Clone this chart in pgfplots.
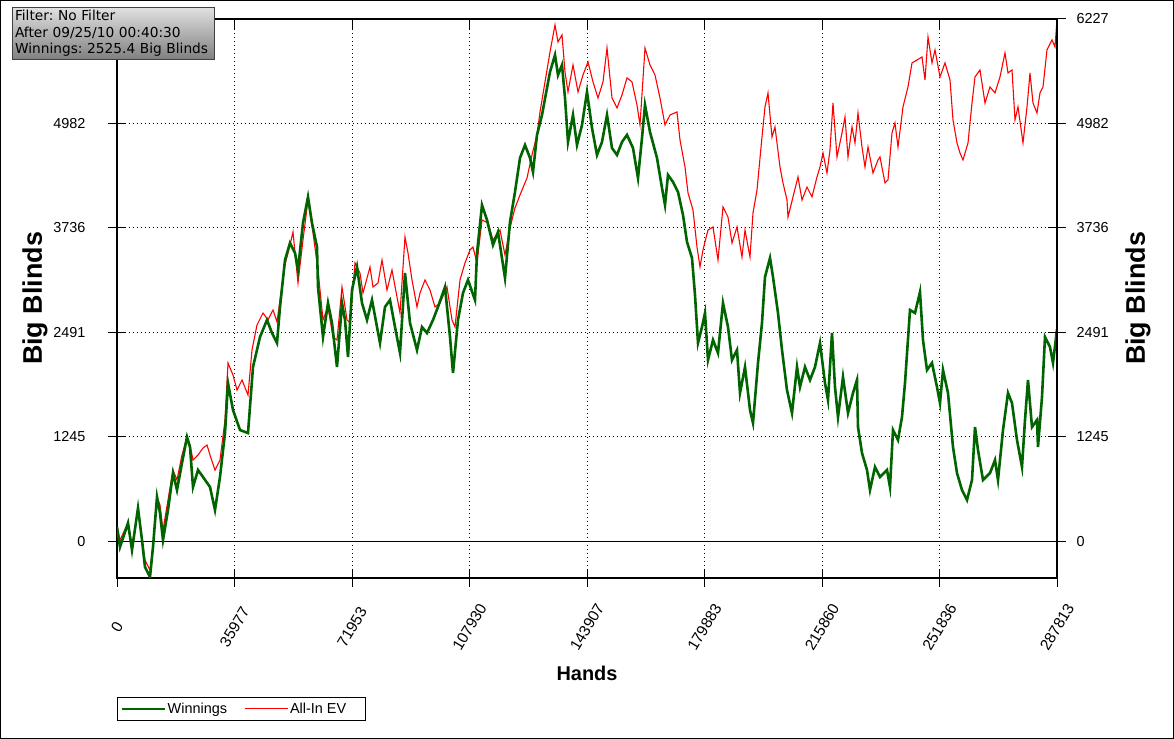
\documentclass[border=0pt]{standalone}
\usepackage{pgfplots}
\pgfplotsset{compat=1.18}
\usepackage{pgfplotstable}
\usepackage{fontspec}
\setmainfont{Liberation Sans}
\newfontfamily\boxfont{DejaVu Sans}
\definecolor{wingreen}{RGB}{0,100,0}
\definecolor{evred}{RGB}{255,0,0}
\frenchspacing

\pgfplotstableread{
x y
0 167
919 -72
3368 215
4593 -107
6430 394
7655 12
8573 -310
10104 -429
11022 -72
12247 525
13166 334
14084 12
15615 370
17146 811
18371 608
19902 931
21433 1241
22351 1121
23270 644
24801 847
26331 764
28475 644
30006 370
31537 764
33067 1288
33986 1885
35517 1563
37660 1324
40110 1288
41640 2076
43784 2434
45927 2637
47458 2481
48989 2362
49907 2792
51438 3352
52969 3555
54500 3436
55419 3233
56949 3794
58480 4104
59705 3794
61236 3507
61542 3030
63073 2434
64604 2839
65829 2601
67360 2076
68891 2839
69809 2637
70728 2195
71952 2994
73483 3269
75014 2839
76545 2637
78076 2875
79607 2553
80525 2362
82056 2792
83587 2875
85118 2553
86649 2243
88180 3197
89711 2601
91854 2279
93385 2553
94916 2481
96753 2637
98284 2792
100427 3030
101958 2434
102876 2004
104407 2637
105938 2959
107469 3114
109612 2875
110225 3436
111756 4008
113287 3830
115124 3531
116655 3686
118798 3138
120329 3806
121860 4164
123391 4569
124921 4724
126452 4569
127371 4402
128596 4844
130127 5082
131657 5404
132576 5595
134107 5798
135025 5559
136250 5679
137169 5285
138087 4760
139618 5082
140843 4724
142374 4963
143905 5357
145436 4927
146966 4605
148497 4760
150028 5082
151559 4688
153090 4605
154621 4760
156152 4844
157989 4688
159520 4331
160745 4808
161663 5201
163194 4879
165337 4569
166868 4211
167787 4008
168705 4366
170236 4283
171767 4164
173298 3889
174523 3567
176054 3376
176972 2935
177891 2362
179115 2553
180034 2720
180952 2159
182483 2398
184014 2243
185545 2839
187076 2553
188301 2159
189832 2279
190750 1766
192281 2076
193812 1563
194730 1408
196261 2124
197486 2601
198405 3150
199936 3376
200854 3150
202385 2720
203610 2279
205141 1801
206672 1527
208202 2076
209121 1837
210652 2076
212183 1921
213714 2076
215245 2362
216775 1885
217694 1682
218919 2481
219837 1837
220756 1479
222287 1957
223818 1527
225349 1766
226573 1921
226880 1360
228104 1050
229635 847
230554 608
232084 883
233615 764
235759 847
236677 644
237596 1324
239127 1205
240351 1479
241270 1885
242801 2756
244332 2720
245863 2971
246781 2398
248006 2040
249537 2124
251068 1837
251986 1646
252905 2040
254436 1766
255966 1121
257191 811
258722 608
260253 489
261784 728
262702 1360
263621 1086
265152 728
267295 811
268826 966
269745 728
271275 1324
272806 1766
274031 1646
275562 1205
277093 883
278011 1444
278930 1921
280155 1360
281686 1444
281992 1121
283217 1718
284135 2434
285666 2314
286584 2124
287813 2525
}\winnings

\pgfplotstableread{
x y
0 167
919 12
3368 215
4593 -48
6430 370
7655 12
8573 -227
10104 -346
11022 -72
12247 525
13166 429
14084 131
15615 489
17146 847
18371 728
19902 1026
21433 1241
22351 1145
23270 966
24801 1026
26331 1109
27556 1145
28475 1026
30006 847
31537 966
33067 1444
33986 2124
35517 1980
36742 1801
38273 1921
40110 1742
41334 2279
42865 2577
44702 2720
46233 2637
47764 2756
48989 2613
49907 2875
51438 3293
52969 3531
53888 3686
55419 3078
56949 3591
58480 4068
60011 3674
61542 3233
63073 2637
64604 2792
66135 2434
67360 2398
68891 3030
70422 2637
71340 2601
72871 3317
74402 3197
75320 2959
77464 3269
78382 3030
79913 3078
81138 3352
82669 2994
84200 3233
85730 2911
86649 2720
88180 3627
89098 3436
90323 3114
91854 2792
92773 2959
94303 3114
95834 2994
97365 2792
98896 2839
101039 3030
102570 2637
103489 2553
105020 3114
106551 3317
108082 3472
109000 3507
110225 3317
111756 3830
113593 3794
115124 3591
117267 3710
118798 3412
120329 3734
121860 3973
123391 4128
125534 4331
127065 4605
128596 4844
129514 5118
131045 5476
132576 5834
134107 6156
135025 5953
136250 6037
137169 5595
138087 5357
139618 5679
141149 5357
142680 5559
144211 5714
145742 5476
147273 5285
148803 5476
150028 5881
151559 5285
153090 5166
154621 5321
156152 5524
157683 5476
159214 5201
160132 4963
161663 5881
163194 5679
164725 5559
166256 5285
167787 4963
169318 5082
171461 5118
172379 4784
173910 4462
174829 4152
176360 3949
177584 3507
178503 3269
179421 3472
180952 3710
182483 3746
184014 3352
185545 3985
187076 3865
188301 3555
189832 3746
191363 3388
192281 3710
193812 3388
194730 3913
195955 4187
197486 4820
198405 5178
199323 5345
200548 4820
201466 4939
202997 4462
203916 4271
205141 4068
205447 3865
206978 4104
208509 4343
209733 4068
211264 4223
212795 4104
214326 4343
215245 4462
216163 4629
217388 4390
218306 4665
219225 5225
220450 4581
221981 4867
222899 5058
223818 4581
225042 4939
225961 4748
226880 5106
228104 4700
229023 4462
229941 4700
231472 4390
233003 4545
233615 4581
235146 4271
236065 4307
237290 4867
238208 4987
239127 4700
240657 5178
242188 5416
243413 5703
244944 5738
246475 5774
247393 5500
248312 6013
249537 5703
250455 5858
251986 5536
253517 5703
255048 5500
255966 5023
257191 4748
258110 4629
259028 4545
260559 4748
261784 5225
262702 5536
264233 5619
265764 5225
267295 5416
268826 5345
270357 5536
271888 5822
272806 5583
274031 5619
274949 5023
275868 5178
277399 4748
278624 5178
279542 5583
280461 5225
281686 5106
282604 5345
283523 5416
284747 5858
286278 5977
287197 5894
287813 6227
}\allinev

\begin{document}
\begin{tikzpicture}
\useasboundingbox (0bp,0bp) rectangle (1174bp,739bp);
\fill[white] (0bp,0bp) rectangle (1174bp,739bp);
\draw[black, line width=1bp] (0.5bp,0.5bp) rectangle (1173.5bp,738.5bp);

\begin{axis}[
  at={(117bp,161bp)}, anchor=south west,
  scale only axis, width=940bp, height=559bp,
  xmin=0, xmax=287813, ymin=-441, ymax=6227,
  scaled x ticks=false, scaled y ticks=false,
  axis line style={black, line width=1.2bp},
  xtick={0,35977,71953,107930,143907,179883,215860,251836,287813},
  xticklabels={0,35977,71953,107930,143907,179883,215860,251836,287813},
  ytick={0,1245,2491,3736,4982,6227},
  yticklabels={0,1245,2491,3736,4982,6227},
  minor x tick num=4, minor y tick num=4,
  xtick pos=bottom, ytick pos=left,
  tick align=center,
  major tick length=18bp, minor tick length=9bp,
  every tick/.style={black, line width=1bp},
  grid=major,
  major grid style={black, line width=0.8bp, dash pattern=on 1bp off 3bp},
  yticklabel style={font=\fontsize{14.5}{16}\selectfont, anchor=east, xshift=-19bp},
  xticklabel style={font=\fontsize{15.5}{17}\selectfont, yshift=-40bp, rotate=59, anchor=center},
  every axis x label/.style={at={(axis description cs:0.5,-0.170)}, anchor=center, font=\fontsize{20}{24}\selectfont\bfseries},
  every axis y label/.style={at={(axis description cs:-0.0872,0.5)}, rotate=90, anchor=center, font=\fontsize{27}{30}\selectfont\bfseries},
  xlabel={Hands}, ylabel={Big Blinds},
  legend columns=2,
  legend style={at={(axis description cs:0,0)}, anchor=north west, yshift=-119bp,
    draw=black, line width=1bp, font=\fontsize{14.5}{16}\selectfont,
    inner xsep=3bp, inner ysep=3.5bp,
    /tikz/every even column/.append style={column sep=15bp}},
  legend image code/.code={\draw[#1] (0bp,0bp) -- (35bp,0bp); \path (0bp,0bp) -- (43bp,0bp);},
]
\addlegendimage{wingreen, line width=2.2bp}
\addlegendentry{Winnings}
\addlegendimage{evred, line width=1bp}
\addlegendentry{All-In EV\rule{14bp}{0pt}}
\draw[black, line width=1bp] (axis cs:0,0) -- (axis cs:287813,0);
\addplot[evred, line width=1.1bp, forget plot] table[x=x, y=y] {\allinev};
\addplot[wingreen, line width=2.6bp, forget plot] table[x=x, y=y] {\winnings};
\end{axis}

\begin{axis}[
  at={(117bp,161bp)}, anchor=south west,
  scale only axis, width=940bp, height=559bp,
  xmin=0, xmax=287813, ymin=-441, ymax=6227,
  scaled y ticks=false,
  axis y line*=right, axis x line=none,
  axis line style={black, line width=1.2bp},
  ytick={0,1245,2491,3736,4982,6227},
  yticklabels={0,1245,2491,3736,4982,6227},
  minor y tick num=4,
  tick align=center,
  major tick length=18bp, minor tick length=12bp,
  every tick/.style={black, line width=1bp},
  yticklabel style={font=\fontsize{14.5}{16}\selectfont, anchor=west, xshift=7bp},
  every axis y label/.style={at={(axis description cs:1.0862,0.5)}, rotate=90, anchor=center, font=\fontsize{27}{30}\selectfont\bfseries},
  ylabel={Big Blinds},
]
\end{axis}

\begin{axis}[
  at={(117bp,161bp)}, anchor=south west,
  scale only axis, width=940bp, height=559bp,
  xmin=0, xmax=287813, ymin=-441, ymax=6227,
  scaled x ticks=false,
  axis x line*=top, axis y line=none,
  axis line style={black, line width=1.2bp},
  xtick={0,35977,71953,107930,143907,179883,215860,251836,287813},
  xticklabels={},
  minor x tick num=4,
  tick align=inside,
  major tick length=10bp, minor tick length=5bp,
  every tick/.style={black, line width=1bp},
]
\end{axis}

\node[draw={black!75}, line width=1bp, top color=black!12, bottom color=black!50,
  anchor=north west, inner xsep=2bp, inner ysep=2bp, align=left,
  minimum width=202bp, minimum height=52bp, text width=197bp,
  font=\boxfont\fontsize{13.8}{16.5}\selectfont]
  at (12bp,732bp) {Filter: No Filter\\After 09/25/10 00:40:30\\Winnings: 2525.4 Big Blinds};
\end{tikzpicture}
\end{document}
